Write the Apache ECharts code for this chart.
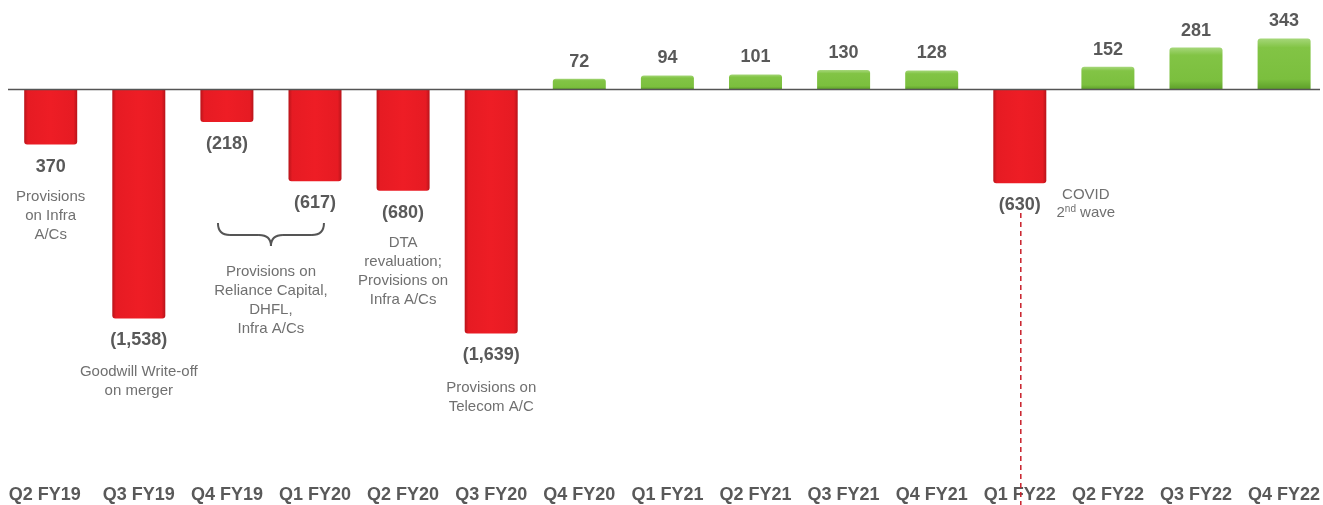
<!DOCTYPE html>
<html>
<head>
<meta charset="utf-8">
<script src="https://cdn.jsdelivr.net/npm/echarts@6/dist/echarts.min.js"></script>
<style>
html,body{margin:0;padding:0;background:#fff;overflow:hidden;}
#c{width:1331px;height:505px;}
</style>
</head>
<body>
<div id="c"></div>
<script>
const categories = ['Q2 FY19','Q3 FY19','Q4 FY19','Q1 FY20','Q2 FY20','Q3 FY20','Q4 FY20','Q1 FY21','Q2 FY21','Q3 FY21','Q4 FY21','Q1 FY22','Q2 FY22','Q3 FY22','Q4 FY22'];
const values = [-370, -1538, -218, -617, -680, -1639, 72, 94, 101, 130, 128, -630, 152, 281, 343];
const valueLabels = ['370','(1,538)','(218)','(617)','(680)','(1,639)','72','94','101','130','128','(630)','152','281','343'];
const noteProvInfra = 'Provisions\non Infra\nA/Cs';
const noteGoodwill = 'Goodwill Write-off\non merger';
const noteReliance = 'Provisions on\nReliance Capital,\nDHFL,\nInfra A/Cs';
const noteDTA = 'DTA\nrevaluation;\nProvisions on\nInfra A/Cs';
const noteTelecom = 'Provisions on\nTelecom A/C';
const noteCovid1 = 'COVID';

const FONT = '"Liberation Sans", Arial, Helvetica, sans-serif';
const redGrad = new echarts.graphic.LinearGradient(0,0,1,0,[
  {offset:0,color:'#B8141A'},{offset:0.07,color:'#E61B23'},{offset:0.5,color:'#EE1D25'},{offset:0.93,color:'#E61B23'},{offset:1,color:'#B8141A'}]);
const greenGrad = new echarts.graphic.LinearGradient(0,0,0,1,[
  {offset:0,color:'#A6D77A'},{offset:0.18,color:'#82C445'},{offset:0.8,color:'#7BBF3E'},{offset:1,color:'#5C9E29'}]);

const chart = echarts.init(document.getElementById('c'), null, {renderer:'canvas'});
chart.setOption({
  animation:false,
  backgroundColor:'#fff',
  grid:{left:6.65, top:15, right:2.85, height:402},
  xAxis:{
    type:'category', data:categories,
    axisLine:{show:false}, axisTick:{show:false},
    axisLabel:{interval:0, margin:69, fontSize:18, fontWeight:'bold', color:'#595959', fontFamily:FONT,
      formatter:(v,i) => i===0 ? '{f|'+v+'}' : v,
      rich:{f:{fontSize:18, fontWeight:'bold', color:'#595959', fontFamily:FONT, padding:[0,12,0,0]}}}
  },
  yAxis:{type:'value', min:-2200, max:500, show:false},
  series:[{
    type:'bar', barWidth:53,
    data: values.map(v => ({
      value:v,
      itemStyle:{color: v<0 ? redGrad : greenGrad, borderRadius: v<0 ? [0,0,3,3] : [3,3,0,0]},
      label:{position: v<0 ? 'bottom' : 'top', distance: v<0 ? 13 : 8}
    })),
    label:{show:true, formatter:p => valueLabels[p.dataIndex], fontSize:18, fontWeight:'bold', color:'#595959', fontFamily:FONT}
  }]
});

function cx(cat){ return chart.convertToPixel({xAxisIndex:0}, cat); }
const y0 = chart.convertToPixel({yAxisIndex:0}, 0);
const noteStyle = {fill:'#707070', fontSize:15, fontFamily:FONT, align:'center', verticalAlign:'top', lineHeight:19};
function note(cat, text, yTop, dx){
  return {type:'text', x:cx(cat)+(dx||0), y:yTop, style:Object.assign({text:text}, noteStyle), z:10};
}
const bx = (cx('Q4 FY19')+cx('Q1 FY20'))/2;
const braceStyle = {stroke:'#555', lineWidth:2, fill:null};
const covidX = cx('Q1 FY22');
chart.setOption({
  graphic:[
    {type:'line', shape:{x1:8, y1:y0, x2:1320, y2:y0}, style:{stroke:'#555', lineWidth:1.6}, z:20},
    note('Q2 FY19', noteProvInfra, 187),
    note('Q3 FY19', noteGoodwill, 362),
    note('Q4 FY19', noteReliance, 262, (cx('Q1 FY20')-cx('Q4 FY19'))/2),
    note('Q2 FY20', noteDTA, 233),
    note('Q3 FY20', noteTelecom, 378),
    {type:'text', x:covidX+66, y:186, style:Object.assign({text:noteCovid1}, noteStyle, {lineHeight:18}), z:10},
    {type:'text', x:covidX+66, y:204, style:{text:'{a|2}{s|nd}{a| wave}', fill:'#707070', fontSize:15, fontFamily:FONT, align:'center', verticalAlign:'top', rich:{a:{fontSize:15, fill:'#707070', fontFamily:FONT, lineHeight:18}, s:{fontSize:10, fill:'#707070', fontFamily:FONT, verticalAlign:'top', lineHeight:18, padding:[0,0,8,0]}}}, z:10},
    {type:'line', shape:{x1:covidX+1, y1:213, x2:covidX+1, y2:505}, style:{stroke:'#C8202A', lineWidth:1.5, lineDash:[5,4]}, z:10},
    {type:'bezierCurve', shape:{x1:bx-53, y1:223, cpx1:bx-53, cpy1:235, x2:bx-41, y2:235}, style:braceStyle},
    {type:'line', shape:{x1:bx-41, y1:235, x2:bx-12, y2:235}, style:braceStyle},
    {type:'bezierCurve', shape:{x1:bx-12, y1:235, cpx1:bx, cpy1:235, x2:bx, y2:246}, style:braceStyle},
    {type:'bezierCurve', shape:{x1:bx+12, y1:235, cpx1:bx, cpy1:235, x2:bx, y2:246}, style:braceStyle},
    {type:'line', shape:{x1:bx+12, y1:235, x2:bx+41, y2:235}, style:braceStyle},
    {type:'bezierCurve', shape:{x1:bx+53, y1:223, cpx1:bx+53, cpy1:235, x2:bx+41, y2:235}, style:braceStyle}
  ]
});
</script>
</body>
</html>
